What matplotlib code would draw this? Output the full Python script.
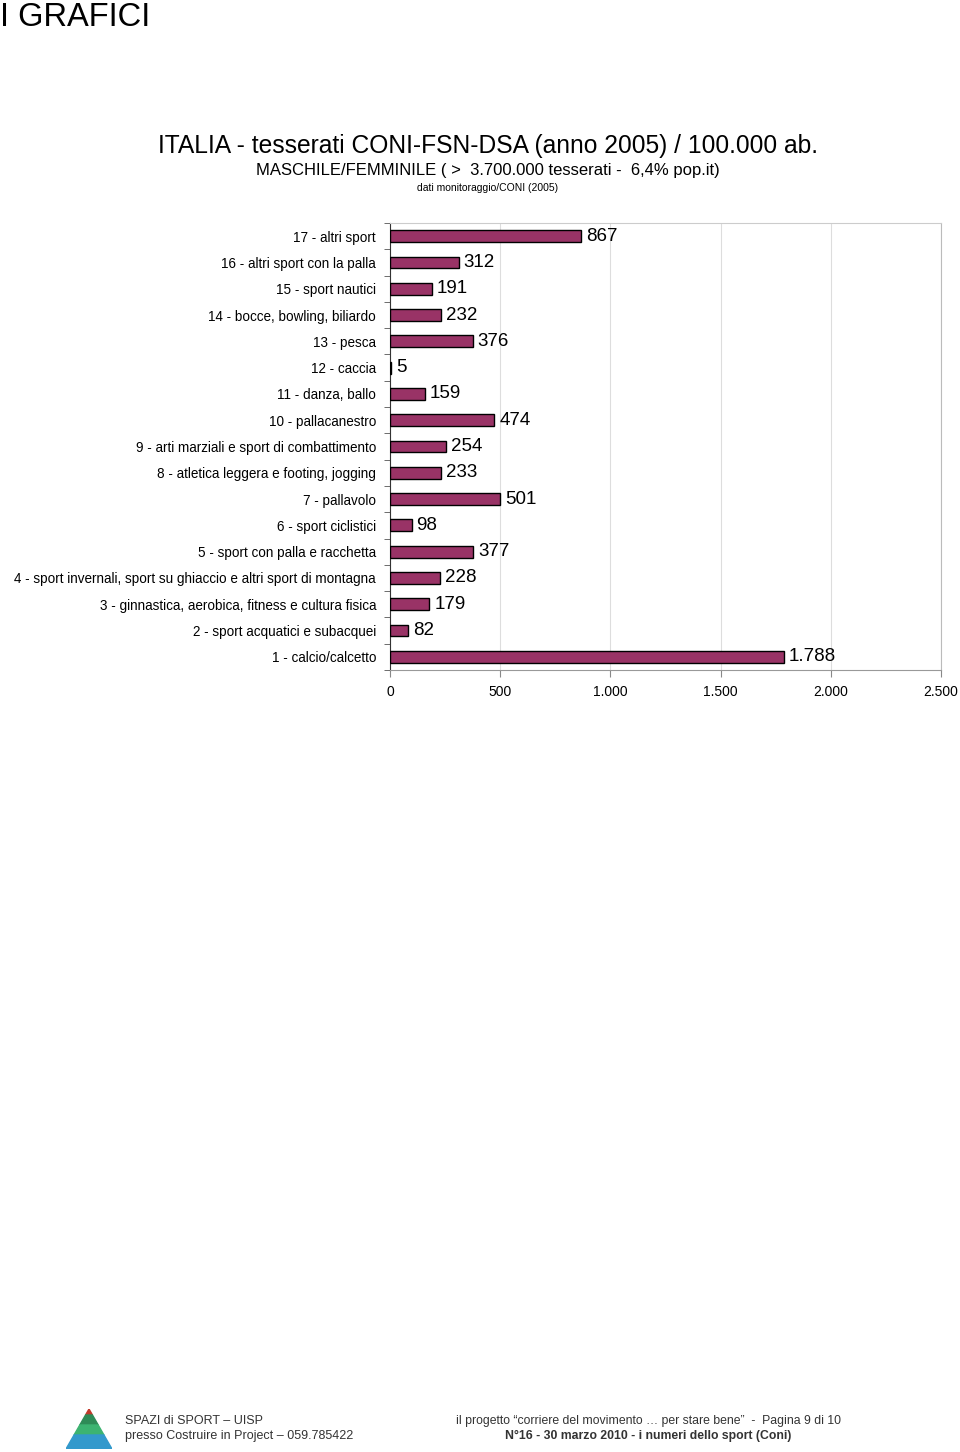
import matplotlib
matplotlib.use("Agg")
import matplotlib.pyplot as plt
from matplotlib.patches import Polygon
import numpy as np

plt.rcParams['font.family'] = ['Liberation Sans', 'DejaVu Sans']

categories = [
    "1 - calcio/calcetto",
    "2 - sport acquatici e subacquei",
    "3 - ginnastica, aerobica, fitness e cultura fisica",
    "4 - sport invernali, sport su ghiaccio e altri sport di montagna",
    "5 - sport con palla e racchetta",
    "6 - sport ciclistici",
    "7 - pallavolo",
    "8 - atletica leggera e footing, jogging",
    "9 - arti marziali e sport di combattimento",
    "10 - pallacanestro",
    "11 - danza, ballo",
    "12 - caccia",
    "13 - pesca",
    "14 - bocce, bowling, biliardo",
    "15 - sport nautici",
    "16 - altri sport con la palla",
    "17 - altri sport",
]
values = [1788, 82, 179, 228, 377, 98, 501, 233, 254, 474, 159, 5, 376, 232, 191, 312, 867]
xticks = [0, 500, 1000, 1500, 2000, 2500]
xtick_labels = ["0", "500", "1.000", "1.500", "2.000", "2.500"]

W, H = 960, 1452
fig = plt.figure(figsize=(W / 100, H / 100), dpi=100)

def fx(px):
    return px / W

def fy(py):
    return 1 - py / H

fig.text(fx(0), fy(17), "I GRAFICI", fontsize=23.5, va="center", ha="left")
fig.text(fx(488), fy(146), "ITALIA - tesserati CONI-FSN-DSA (anno 2005) / 100.000 ab.",
         fontsize=17.7, ha="center", va="center")
fig.text(fx(488), fy(171), "MASCHILE/FEMMINILE ( >  3.700.000 tesserati -  6,4% pop.it)",
         fontsize=12, ha="center", va="center")
fig.text(fx(488), fy(188), "dati monitoraggio/CONI (2005)", fontsize=7.5, ha="center", va="center")

left, right, top, bottom = 390, 941, 223, 670
ax = fig.add_axes([fx(left), fy(bottom), fx(right - left), (bottom - top) / H])

y = np.arange(len(categories))
ax.barh(y, values, height=0.45, color="#993366", edgecolor="black", linewidth=1.0, zorder=3)
ax.set_ylim(-0.5, len(categories) - 0.5)
ax.set_xlim(0, 2500)

def fmt(v):
    return f"{v:,}".replace(",", ".")

for yi, v in zip(y, values):
    ax.text(v + 22, yi, fmt(v), va="center", ha="left", fontsize=13.5, zorder=4)

ax.set_yticks(y)
ax.set_yticklabels(categories, fontsize=9.75)
ax.tick_params(axis="y", which="major", length=0, pad=10)
ax.set_yticks(np.arange(-0.5, len(categories), 1), minor=True)
ax.tick_params(axis="y", which="minor", length=4, color="#555555", direction="out")

ax.set_xticks(xticks)
ax.set_xticklabels(xtick_labels, fontsize=10)
ax.tick_params(axis="x", length=5, color="#888888", pad=6)

ax.grid(axis="x", color="#dddddd", linewidth=0.8, zorder=0)
ax.spines["left"].set_color("#333333")
ax.spines["bottom"].set_color("#999999")
ax.spines["top"].set_color("#cccccc")
ax.spines["right"].set_color("#bbbbbb")

# footer logo (simple pyramid)
lax = fig.add_axes([fx(66), fy(1449), fx(46), 40 / H])
lax.set_xlim(0, 1); lax.set_ylim(0, 1); lax.axis("off")
bands = [("#c0392b", 0.85, 1.0), ("#2e8b57", 0.6, 0.85), ("#3cb371", 0.35, 0.6), ("#3399cc", 0.0, 0.35)]
for c, y0, y1 in bands:
    x0l = 0.5 - 0.5 * (1 - y0); x0r = 0.5 + 0.5 * (1 - y0)
    x1l = 0.5 - 0.5 * (1 - y1); x1r = 0.5 + 0.5 * (1 - y1)
    lax.add_patch(Polygon([[x0l, y0], [x0r, y0], [x1r, y1], [x1l, y1]], closed=True, color=c))

fig.text(fx(125), fy(1421), "SPAZI di SPORT – UISP", fontsize=9, color="#333333", va="center", ha="left")
fig.text(fx(125), fy(1436), "presso Costruire in Project – 059.785422", fontsize=9, color="#333333", va="center", ha="left")
fig.text(fx(648), fy(1421), "il progetto \u201ccorriere del movimento \u2026 per stare bene\u201d  -  Pagina 9 di 10",
         fontsize=8.8, color="#333333", va="center", ha="center")
fig.text(fx(648), fy(1436), "N°16 - 30 marzo 2010 - i numeri dello sport (Coni)",
         fontsize=8.8, fontweight="bold", color="#333333", va="center", ha="center")

fig.savefig("out.png", dpi=100)
